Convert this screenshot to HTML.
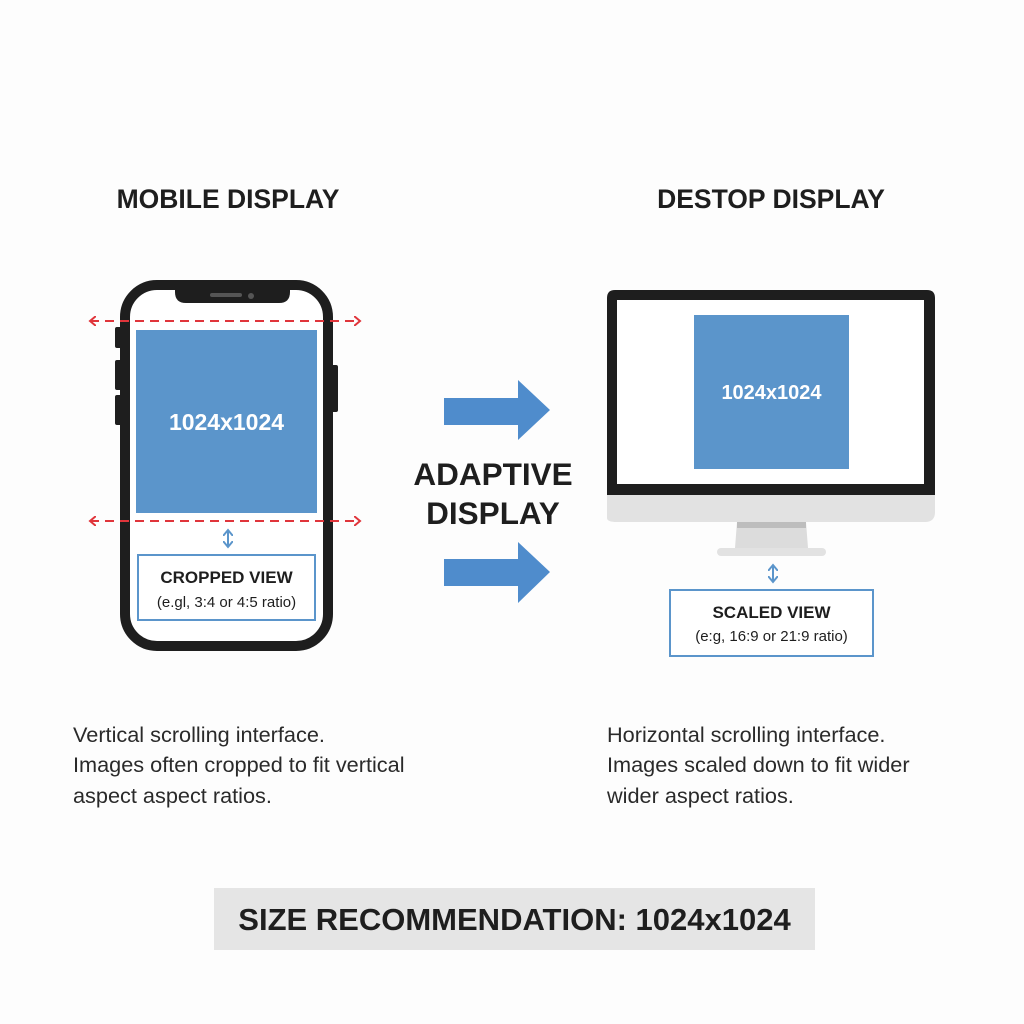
<!DOCTYPE html>
<html><head><meta charset="utf-8"><style>
html,body{margin:0;padding:0;background:#fdfdfd;}
svg{display:block;font-family:"Liberation Sans","DejaVu Sans",sans-serif;}
</style></head><body>
<svg width="1024" height="1024" viewBox="0 0 1024 1024" xmlns="http://www.w3.org/2000/svg">
<defs>
<marker id="ra" markerWidth="10" markerHeight="10" refX="6" refY="5" orient="auto-start-reverse" markerUnits="userSpaceOnUse"><path d="M0,0 L6,5 L0,10" fill="none" stroke="#e0353b" stroke-width="2"/></marker>
<marker id="ba" markerWidth="12" markerHeight="10" refX="6" refY="5" orient="auto-start-reverse" markerUnits="userSpaceOnUse"><path d="M0,0 L6,5 L0,10" fill="none" stroke="#5b95cb" stroke-width="2"/></marker>
</defs>
<rect width="1024" height="1024" fill="#fdfdfd"/>
<text x="228" y="208" font-size="26.5" font-weight="bold" text-anchor="middle" fill="#1e1e1e">MOBILE DISPLAY</text>
<text x="771" y="208" font-size="26.5" font-weight="bold" text-anchor="middle" fill="#1e1e1e">DESTOP DISPLAY</text>
<!-- phone -->
<rect x="115" y="327" width="7" height="21" rx="2" fill="#1e1e1e"/>
<rect x="115" y="360" width="7" height="30" rx="2" fill="#1e1e1e"/>
<rect x="115" y="395" width="7" height="30" rx="2" fill="#1e1e1e"/>
<rect x="331" y="365" width="7" height="47" rx="2" fill="#1e1e1e"/>
<rect x="125" y="285" width="203" height="361" rx="32" fill="#fff" stroke="#1e1e1e" stroke-width="10"/>
<path d="M175,285 L290,285 L290,292 Q290,303 279,303 L186,303 Q175,303 175,292 Z" fill="#1e1e1e"/>
<rect x="210" y="293" width="32" height="4" rx="2" fill="#555"/>
<circle cx="251" cy="296" r="3" fill="#555"/>
<rect x="136" y="330" width="181" height="183" fill="#5b95cb"/>
<text x="226.5" y="430" font-size="23" font-weight="bold" text-anchor="middle" fill="#fff">1024x1024</text>
<line x1="90" y1="321" x2="360" y2="321" stroke="#e0353b" stroke-width="2" stroke-dasharray="9,6" marker-start="url(#ra)" marker-end="url(#ra)"/>
<line x1="90" y1="521" x2="360" y2="521" stroke="#e0353b" stroke-width="2" stroke-dasharray="9,6" marker-start="url(#ra)" marker-end="url(#ra)"/>
<line x1="228" y1="530" x2="228" y2="547" stroke="#5b95cb" stroke-width="2" marker-start="url(#ba)" marker-end="url(#ba)"/>
<rect x="138" y="555" width="177" height="65" fill="#fff" stroke="#5b95cb" stroke-width="2"/>
<text x="226.5" y="583" font-size="17" font-weight="bold" text-anchor="middle" fill="#1e1e1e">CROPPED VIEW</text>
<text x="226.5" y="607" font-size="15" text-anchor="middle" fill="#1e1e1e">(e.gl, 3:4 or 4:5 ratio)</text>
<!-- arrows -->
<path d="M444,398 L518,398 L518,380 L550,410 L518,440 L518,425 L444,425 Z" fill="#4f8ccc"/>
<path d="M444,559 L518,559 L518,542 L550,572 L518,603 L518,586 L444,586 Z" fill="#4f8ccc"/>
<text x="493" y="485" font-size="31.5" font-weight="bold" text-anchor="middle" fill="#1e1e1e">ADAPTIVE</text>
<text x="493" y="524" font-size="31.5" font-weight="bold" text-anchor="middle" fill="#1e1e1e">DISPLAY</text>
<!-- monitor -->
<path d="M607,518 Q607,522 617,522 L925,522 Q935,522 935,512 L935,495 L607,495 Z" fill="#e2e2e2"/>
<path d="M607,495 L607,298 Q607,290 615,290 L927,290 Q935,290 935,298 L935,495 Z" fill="#1e1e1e"/>
<rect x="617" y="300" width="307" height="184" fill="#fff"/>
<path d="M737,522 L806,522 L808,548 L735,548 Z" fill="#dcdcdc"/>
<rect x="737" y="522" width="69" height="6" fill="#bdbdbd"/>
<rect x="717" y="548" width="109" height="8" rx="4" fill="#e2e2e2"/>
<rect x="694" y="315" width="155" height="154" fill="#5b95cb"/>
<text x="771.5" y="399" font-size="20" font-weight="bold" text-anchor="middle" fill="#fff">1024x1024</text>
<line x1="773" y1="565" x2="773" y2="582" stroke="#5b95cb" stroke-width="2" marker-start="url(#ba)" marker-end="url(#ba)"/>
<rect x="670" y="590" width="203" height="66" fill="#fff" stroke="#5b95cb" stroke-width="2"/>
<text x="771.5" y="618" font-size="17" font-weight="bold" text-anchor="middle" fill="#1e1e1e">SCALED VIEW</text>
<text x="771.5" y="641" font-size="15" text-anchor="middle" fill="#1e1e1e">(e:g, 16:9 or 21:9 ratio)</text>
<!-- descriptions -->
<g font-size="21.7" fill="#2a2a2a">
<text x="73" y="742">Vertical scrolling interface.</text>
<text x="73" y="772">Images often cropped to fit vertical</text>
<text x="73" y="803">aspect aspect ratios.</text>
<text x="607" y="742">Horizontal scrolling interface.</text>
<text x="607" y="772">Images scaled down to fit wider</text>
<text x="607" y="803">wider aspect ratios.</text>
</g>
<rect x="214" y="888" width="601" height="62" fill="#e5e5e5"/>
<text x="514.5" y="930" font-size="31" font-weight="bold" text-anchor="middle" fill="#1e1e1e">SIZE RECOMMENDATION: 1024x1024</text>
</svg>
</body></html>
